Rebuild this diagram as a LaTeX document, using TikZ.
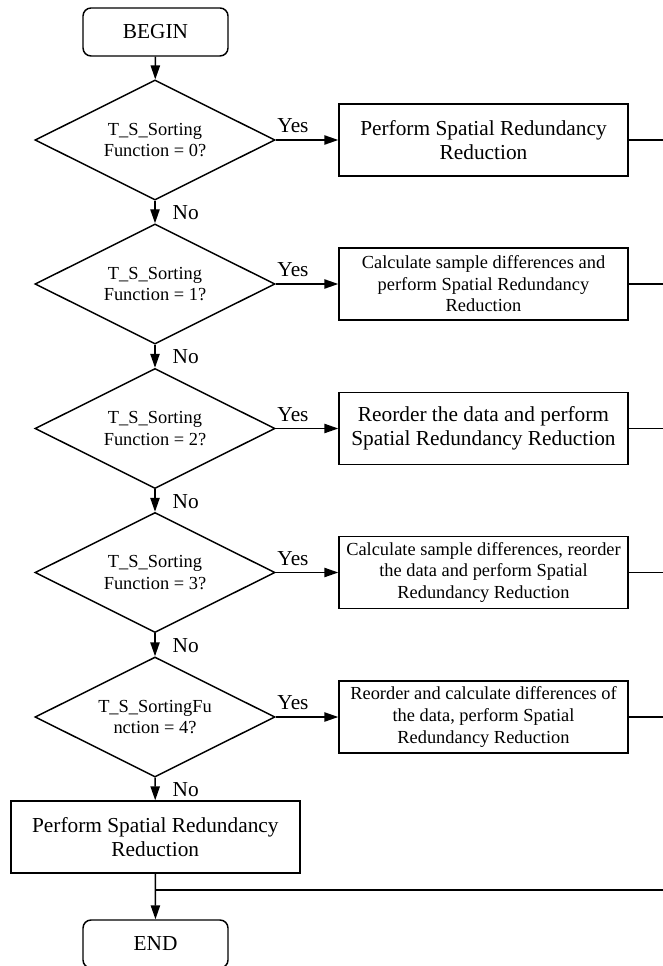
\documentclass[tikz,border=0pt]{standalone}
\usepackage{fontspec}
\setmainfont{Liberation Serif}
\usetikzlibrary{shapes.geometric,arrows.meta}
\begin{document}
\begin{tikzpicture}[x=0.75pt,y=-0.75pt,
  line width=1.1pt,
  big/.style={font=\fontsize{16}{18}\selectfont},
  small/.style={font=\fontsize{13.8}{16.2}\selectfont},
  term/.style={draw, rounded corners=6pt, minimum width=108.75pt, minimum height=36pt, inner sep=0pt, big},
  dec/.style={draw, diamond, aspect=2, minimum width=180pt, minimum height=90pt, inner sep=0pt, small, align=center},
  proc/.style={draw, minimum width=216.75pt, minimum height=54pt, inner sep=0pt, align=center},
  arr/.style={-{Triangle[length=10.5pt,width=7pt]}},
  lbl/.style={big, inner sep=0pt}
]
\useasboundingbox (0,0) rectangle (663,966);

\node[term] (begin) at (155.5,32) {BEGIN};

\node[dec] (d1) at (155,140) {T\_S\_Sorting\\Function = 0?};
\node[dec] (d2) at (155,284) {T\_S\_Sorting\\Function = 1?};
\node[dec] (d3) at (155,428.5) {T\_S\_Sorting\\Function = 2?};
\node[dec] (d4) at (155,572.5) {T\_S\_Sorting\\Function = 3?};
\node[dec] (d5) at (155,717) {T\_S\_SortingFu\\nction = 4?};

\node[proc,big] (b1) at (483.5,140) {Perform Spatial Redundancy\\Reduction};
\node[proc,small] (b2) at (483.5,284) {Calculate sample differences and\\perform Spatial Redundancy\\Reduction};
\node[proc,big] (b3) at (483.5,428.5) {Reorder the data and perform\\Spatial Redundancy Reduction};
\node[proc,small] (b4) at (483.5,572.5) {Calculate sample differences, reorder\\the data and perform Spatial\\Redundancy Reduction};
\node[proc,small] (b5) at (483.5,717) {Reorder and calculate differences of\\the data, perform Spatial\\Redundancy Reduction};

\node[proc,big] (fin) at (155.3,837) {Perform Spatial Redundancy\\Reduction};
\node[term] (end) at (155.5,944) {END};

% Yes labels
\node[lbl] (y1) at (293,126) {Yes};
\node[lbl] (y2) at (293,270) {Yes};
\node[lbl] (y3) at (293,414.5) {Yes};
\node[lbl] (y4) at (293,558.5) {Yes};
\node[lbl] (y5) at (293,703) {Yes};
% No labels
\node[lbl,anchor=west] (n1) at (172,213) {No};
\node[lbl,anchor=west] (n2) at (172,357) {No};
\node[lbl,anchor=west] (n3) at (172,501.5) {No};
\node[lbl,anchor=west] (n4) at (172,645.5) {No};
\node[lbl,anchor=west] (n5) at (172,790) {No};

% connectors
\draw[arr] (begin) -- (d1);
\draw[arr] (d1) -- (d2);
\draw[arr] (d2) -- (d3);
\draw[arr] (d3) -- (d4);
\draw[arr] (d4) -- (d5);
\draw[arr] (d5) -- (fin);
\draw[arr] (fin) -- (end);

\draw[arr] (d1) -- (b1);
\draw[arr] (d2) -- (b2);
\draw[arr] (d3) -- (b3);
\draw[arr] (d4) -- (b4);
\draw[arr] (d5) -- (b5);

\coordinate (r1) at (663,140);
\coordinate (r2) at (663,284);
\coordinate (r3) at (663,428.5);
\coordinate (r4) at (663,572.5);
\coordinate (r5) at (663,717);
\coordinate (j) at (155.3,890);
\coordinate (r6) at (663,890);
\draw (b1) -- (r1);
\draw (b2) -- (r2);
\draw (b3) -- (r3);
\draw (b4) -- (r4);
\draw (b5) -- (r5);
\draw (j) -- (r6);
\end{tikzpicture}
\end{document}
